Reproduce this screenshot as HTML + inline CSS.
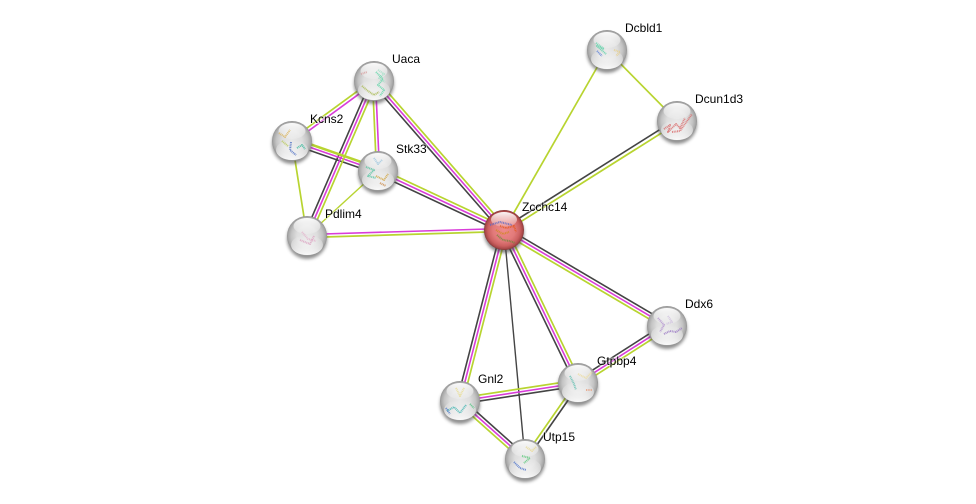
<!DOCTYPE html>
<html>
<head>
<meta charset="utf-8">
<style>
html,body{margin:0;padding:0;background:#fff;}
svg{display:block;}
text{font-family:"Liberation Sans",sans-serif;font-size:12px;fill:#000;paint-order:stroke;stroke:rgba(255,255,255,.45);stroke-width:2px;}
.k line{stroke:#444;stroke-width:1.6;}
.m line{stroke:#d93cd9;stroke-width:1.6;}
.g line{stroke:#b8d430;stroke-width:1.7;}
.p polyline{fill:none;stroke-width:2;stroke-dasharray:1 .7;stroke-linejoin:round;opacity:.8;}
</style>
</head>
<body>
<svg width="976" height="504" viewBox="0 0 976 504" xmlns="http://www.w3.org/2000/svg">
<defs>
<radialGradient id="s" cx="50%" cy="50%" r="50%">
<stop offset="0" stop-color="#e8e8e8"/><stop offset=".5" stop-color="#dedede"/><stop offset=".78" stop-color="#c4c4c4"/><stop offset=".94" stop-color="#a6a6a6"/><stop offset="1" stop-color="#909090"/>
</radialGradient>
<radialGradient id="r" cx="50%" cy="50%" r="50%">
<stop offset="0" stop-color="#ef8a8a"/><stop offset=".55" stop-color="#e27a7a"/><stop offset=".8" stop-color="#cc6060"/><stop offset=".94" stop-color="#a84848"/><stop offset="1" stop-color="#803434"/>
</radialGradient>
<linearGradient id="h" x1="0" y1="0" x2="0" y2="1">
<stop offset="0" stop-color="#fff" stop-opacity=".95"/><stop offset="1" stop-color="#fff" stop-opacity=".15"/>
</linearGradient>
<linearGradient id="l" x1="0" y1="0" x2="0" y2="1">
<stop offset="0" stop-color="#fff" stop-opacity="0"/><stop offset="1" stop-color="#fff" stop-opacity=".95"/>
</linearGradient>
<filter id="b" x="-30%" y="-30%" width="160%" height="160%"><feGaussianBlur stdDeviation="1.5"/></filter>
<g id="ball">
<circle cx="0" cy="3" r="20" fill="#444" opacity=".6" filter="url(#b)"/>
<circle r="20" fill="url(#s)"/>
<ellipse cy="9" rx="16" ry="10" fill="url(#l)"/>
<ellipse cy="-10" rx="13.5" ry="8" fill="url(#h)"/>
</g>
<g id="ballr">
<circle cx="0" cy="3" r="20" fill="#444" opacity=".65" filter="url(#b)"/>
<circle r="20" fill="url(#r)"/>
<ellipse cy="-10.5" rx="13" ry="7.5" fill="url(#h)"/>
</g>
</defs>
<rect width="976" height="504" fill="#fff"/>

<g class="k">
<line x1="501.74" y1="231.97" x2="371.74" y2="82.97"/>
<line x1="502.73" y1="232.72" x2="376.73" y2="173.72"/>
<line x1="291.02" y1="143.83" x2="377.02" y2="173.83"/>
<line x1="371.25" y1="79.81" x2="304.25" y2="234.81"/>
<line x1="503" y1="228.4" x2="676" y2="119.4"/>
<line x1="505.52" y1="227.42" x2="668.52" y2="323.42"/>
<line x1="665.38" y1="323.48" x2="576.38" y2="380.48"/>
<line x1="501.3" y1="231.31" x2="575.3" y2="384.31"/>
<line x1="501.1" y1="229.25" x2="457.1" y2="400.25"/>
<line x1="504" y1="230" x2="525" y2="459" style="stroke-width:1.4"/>
<line x1="460.46" y1="403.96" x2="578.46" y2="385.96"/>
<line x1="462" y1="398.76" x2="527" y2="456.76"/>
<line x1="579.4" y1="384" x2="526.4" y2="460"/>
</g>
<g class="m">
<line x1="504" y1="230" x2="374" y2="81"/>
<line x1="504" y1="230" x2="378" y2="171"/>
<line x1="292" y1="141" x2="378" y2="171"/>
<line x1="374.94" y1="82.3" x2="292.94" y2="142.3"/>
<line x1="375.5" y1="81" x2="379.5" y2="171"/>
<line x1="374" y1="81" x2="307" y2="236"/>
<line x1="504" y1="228.5" x2="307" y2="234.5"/>
<line x1="504" y1="230" x2="667" y2="326"/>
<line x1="667" y1="326" x2="578" y2="383"/>
<line x1="504" y1="230" x2="578" y2="383"/>
<line x1="504" y1="230" x2="460" y2="401"/>
<line x1="460" y1="401" x2="578" y2="383"/>
<line x1="460" y1="401" x2="525" y2="459"/>
</g>
<g class="g">
<line x1="506.26" y1="228.03" x2="376.26" y2="79.03"/>
<line x1="505.27" y1="227.28" x2="379.27" y2="168.28"/>
<line x1="292.98" y1="138.17" x2="378.98" y2="168.17" style="stroke-width:2.6"/>
<line x1="373.06" y1="79.7" x2="291.06" y2="139.7"/>
<line x1="372.5" y1="81" x2="376.5" y2="171"/>
<line x1="376.75" y1="82.19" x2="309.75" y2="237.19"/>
<line x1="292" y1="141" x2="307" y2="236"/>
<line x1="378" y1="171" x2="307" y2="236" style="stroke-width:1.4"/>
<line x1="504" y1="231.5" x2="307" y2="237.5"/>
<line x1="504" y1="230" x2="607" y2="50"/>
<line x1="607" y1="50" x2="677" y2="121"/>
<line x1="505" y1="231.6" x2="678" y2="122.6"/>
<line x1="502.48" y1="232.58" x2="665.48" y2="328.58"/>
<line x1="668.62" y1="328.52" x2="579.62" y2="385.52"/>
<line x1="506.7" y1="228.69" x2="580.7" y2="381.69"/>
<line x1="506.9" y1="230.75" x2="462.9" y2="401.75"/>
<line x1="459.54" y1="398.04" x2="577.54" y2="380.04"/>
<line x1="458" y1="403.24" x2="523" y2="461.24"/>
<line x1="576.6" y1="382" x2="523.6" y2="458"/>
</g>

<use href="#ball" x="374" y="81"/>
<use href="#ball" x="292" y="141"/>
<use href="#ball" x="378" y="171"/>
<use href="#ball" x="307" y="236"/>
<use href="#ball" x="607" y="50"/>
<use href="#ball" x="677" y="121"/>
<use href="#ball" x="667" y="326"/>
<use href="#ball" x="578" y="383"/>
<use href="#ball" x="460" y="401"/>
<use href="#ball" x="525" y="459"/>
<use href="#ballr" x="504" y="230"/>

<g class="p">
<polyline stroke="#a6e0c8" points="378,70 384,74 379,78 385,82"/>
<polyline stroke="#5fd6a8" points="376,72 383,79 378,85 384,90 380,96"/>
<polyline stroke="#a8b94f" points="362,86 368,91 374,95 379,92"/>
<polyline stroke="#d8a0a0" points="361,74 367,72"/>
<polyline stroke="#d9b35a" points="279,133 285,137 290,130"/>
<polyline stroke="#b9c957" points="282,141 288,146"/>
<polyline stroke="#4e6fc4" points="291,142 290,150 296,155"/>
<polyline stroke="#3dba9e" points="297,148 302,145 305,149"/>
<polyline stroke="#9fc7de" points="374,158 378,164 382,160"/>
<polyline stroke="#54c3a0" points="366,167 374,170 368,176 376,178"/>
<polyline stroke="#d0a23e" points="376,176 384,180 388,174"/>
<polyline stroke="#c98a4a" points="380,183 386,186"/>
<polyline stroke="#e3b3cc" points="302,232 308,239 316,241"/>
<polyline stroke="#dca0c0" points="300,240 310,244 314,236"/>
<polyline stroke="#59d1a6" points="596,43 604,49 597,46 606,54"/>
<polyline stroke="#5b7fd6" points="597,51 602,56"/>
<polyline stroke="#e8cf8a" points="614,50 620,52 616,56"/>
<polyline stroke="#d96a6a" points="664,129 670,125 668,132 676,124 680,128 685,118"/>
<polyline stroke="#d96a6a" points="672,132 680,131 692,114"/>
<polyline stroke="#b290d0" points="658,318 664,325 660,332"/>
<polyline stroke="#9a78c4" points="664,334 670,331 676,332 682,328"/>
<polyline stroke="#cfc0e0" points="668,316 672,322 666,324"/>
<polyline stroke="#5fbfb0" points="570,376 574,384 576,390"/>
<polyline stroke="#ecdca0" points="578,374 586,378 592,372"/>
<polyline stroke="#e8a080" points="586,390 592,390"/>
<polyline stroke="#e8dc90" points="456,388 460,396 464,388"/>
<polyline stroke="#3fb3b0" points="447,411 454,407 460,413 466,405"/>
<polyline stroke="#4e78c8" points="446,408 450,414"/>
<polyline stroke="#50c080" points="470,404 474,408"/>
<polyline stroke="#e8d890" points="526,447 532,451 536,447"/>
<polyline stroke="#58c878" points="522,456 530,458 524,463"/>
<polyline stroke="#4a70c8" points="514,462 520,468 526,470"/>
<polyline stroke="#5c68c0" points="490,225 500,222 512,225"/>
<polyline stroke="#e2571e" points="500,226 506,228 514,226 516,232"/>
<polyline stroke="#d08a20" points="496,230 503,234 509,232"/>
<polyline stroke="#6f8a3a" points="497,235 503,240 510,241 515,243"/>
</g>

<text x="392" y="63">Uaca</text>
<text x="310" y="123">Kcns2</text>
<text x="396" y="153">Stk33</text>
<text x="325" y="218">Pdlim4</text>
<text x="625" y="32">Dcbld1</text>
<text x="695" y="103">Dcun1d3</text>
<text x="522" y="211">Zcchc14</text>
<text x="685" y="308">Ddx6</text>
<text x="597" y="365">Gtpbp4</text>
<text x="478" y="383">Gnl2</text>
<text x="543" y="441">Utp15</text>
</svg>
</body>
</html>
